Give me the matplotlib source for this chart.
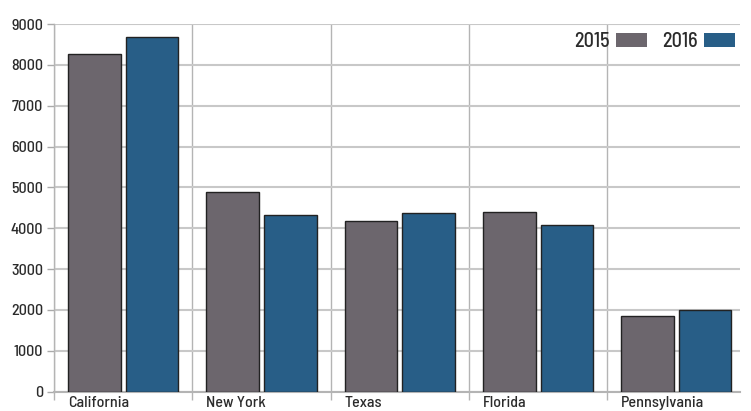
import numpy as np
import matplotlib
matplotlib.use('Agg')
import matplotlib.pyplot as plt

# veri
states = ['California', 'New York', 'Texas', 'Florida', 'Pennsylvania']
years = ['2015', '2016']
vals_2015 = [8270, 4880, 4170, 4400, 1850]
vals_2016 = [8680, 4320, 4370, 4080, 2000]
y_ticks = [0, 1000, 2000, 3000, 4000, 5000, 6000, 7000, 8000, 9000]

plt.rcParams['font.family'] = ['Barlow Semi Condensed', 'DejaVu Sans']
plt.rcParams['font.weight'] = 'medium'

c15 = '#6c666d'
c16 = '#285e87'
txt = '#2b2b2b'

fig = plt.figure(figsize=(7.51, 4.11), dpi=100)
ax = fig.add_axes([54/751, 19.3/411, (740-54)/751, (391.7-24)/411])

x = np.arange(len(states))
w = 0.38
off = 0.208
ax.bar(x - off, vals_2015, w, color=c15, edgecolor='#222222', linewidth=1, label=years[0], zorder=3)
ax.bar(x + off, vals_2016, w, color=c16, edgecolor='#222222', linewidth=1, label=years[1], zorder=3)

ax.set_xlim(-0.5, 4.46)
ax.set_ylim(0, 9000)

ax.set_yticks(y_ticks)
ax.set_yticklabels([str(v) for v in y_ticks], fontsize=11.5, color=txt)
ax.tick_params(axis='y', length=5, color='#aaaaaa', width=1, pad=3)

# kategori etiketleri: ilk çubuğun sol kenarına hizalı
ax.set_xticks(x - off - w/2)
ax.set_xticklabels(states, ha='left', fontsize=11.5, color=txt)
ax.tick_params(axis='x', which='major', length=0, pad=3)
ax.set_xticks(np.arange(len(states)) - 0.5, minor=True)
ax.tick_params(axis='x', which='minor', length=6, color='#b4b4b4', width=1)

ax.grid(axis='y', which='major', color='#c8c8c8', linewidth=1.5, zorder=0)
ax.grid(axis='x', which='minor', color='#b4b4b4', linewidth=1, zorder=0)
ax.set_axisbelow(True)

for s in ['top', 'right']:
    ax.spines[s].set_visible(False)
ax.spines['left'].set_color('#b4b4b4')
ax.spines['left'].set_linewidth(1)
ax.spines['bottom'].set_color('#b4b4b4')
ax.spines['bottom'].set_linewidth(1.5)

leg = ax.legend(loc='upper right', ncol=2, markerfirst=False, frameon=False,
                bbox_to_anchor=(735/751, 1 - 32/411), bbox_transform=fig.transFigure,
                borderpad=0, borderaxespad=0, handlelength=1.55, handleheight=0.74,
                handletextpad=0.3, columnspacing=0.75, fontsize=14.5)
for t in leg.get_texts():
    t.set_color(txt)
for h in leg.legend_handles:
    h.set_edgecolor('none')

fig.savefig('out.png', dpi=100)
